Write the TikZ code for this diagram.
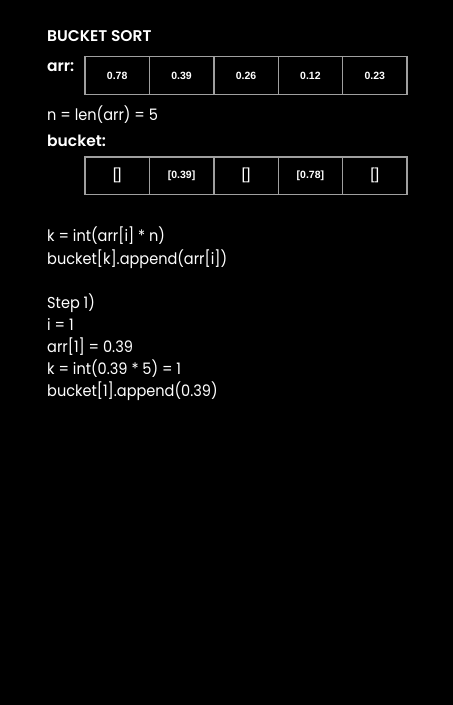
\documentclass[tikz,border=0pt]{standalone}
\usepackage{fontspec}
\setmainfont{Poppins}[BoldFont={Poppins SemiBold}]
\newfontfamily\bodyfont{Poppins}[FakeStretch=0.92]
\newfontfamily\cellfont{Liberation Sans}
\begin{document}
\begin{tikzpicture}[x=1pt,y=-1pt,
  txt/.style={anchor=base west,inner sep=0pt,text=white,font=\bodyfont\fontsize{15.8}{18}\selectfont},
  head/.style={anchor=base west,inner sep=0pt,text=white,font=\fontsize{15.5}{18}\selectfont\bfseries},
  cell/.style={draw=gray!75,line width=1.4pt,minimum width=64.4pt,minimum height=37.5pt,inner sep=0pt,outer sep=0pt,text=white,anchor=west,font=\cellfont\bfseries\fontsize{10.5}{12}\selectfont},
  ecell/.style={cell,font=\cellfont\fontsize{16}{18}\selectfont}]
\fill[black] (0,0) rectangle (453,705);
\useasboundingbox (0,0) rectangle (453,705);
\node[head] (title) at (47,41) {BUCKET SORT};
\node[head] (arrlbl) at (47,71) {arr:};
\node[cell] (a0) at (85,75.5) {0.78};
\node[cell] (a1) at (a0.east) {0.39};
\node[cell] (a2) at (a1.east) {0.26};
\node[cell] (a3) at (a2.east) {0.12};
\node[cell] (a4) at (a3.east) {0.23};
\node[txt] (nlen) at (47,120) {n = len(arr) = 5};
\node[head] (bktlbl) at (47,146) {bucket:};
\node[ecell] (b0) at (85,175.7) {[]};
\node[cell] (b1) at (b0.east) {[0.39]};
\node[ecell] (b2) at (b1.east) {[]};
\node[cell] (b3) at (b2.east) {[0.78]};
\node[ecell] (b4) at (b3.east) {[]};
\node[txt] (l1) at (47,241.7) {k = int(arr[i] * n)};
\node[txt] (l2) at (47,264) {bucket[k].append(arr[i])};
\node[txt] (l3) at (47,308) {Step 1)};
\node[txt] (l4) at (47,330) {i = 1};
\node[txt] (l5) at (47,352) {arr[1] = 0.39};
\node[txt] (l6) at (47,374) {k = int(0.39 * 5) = 1};
\node[txt] (l7) at (47,396) {bucket[1].append(0.39)};
\end{tikzpicture}
\end{document}
